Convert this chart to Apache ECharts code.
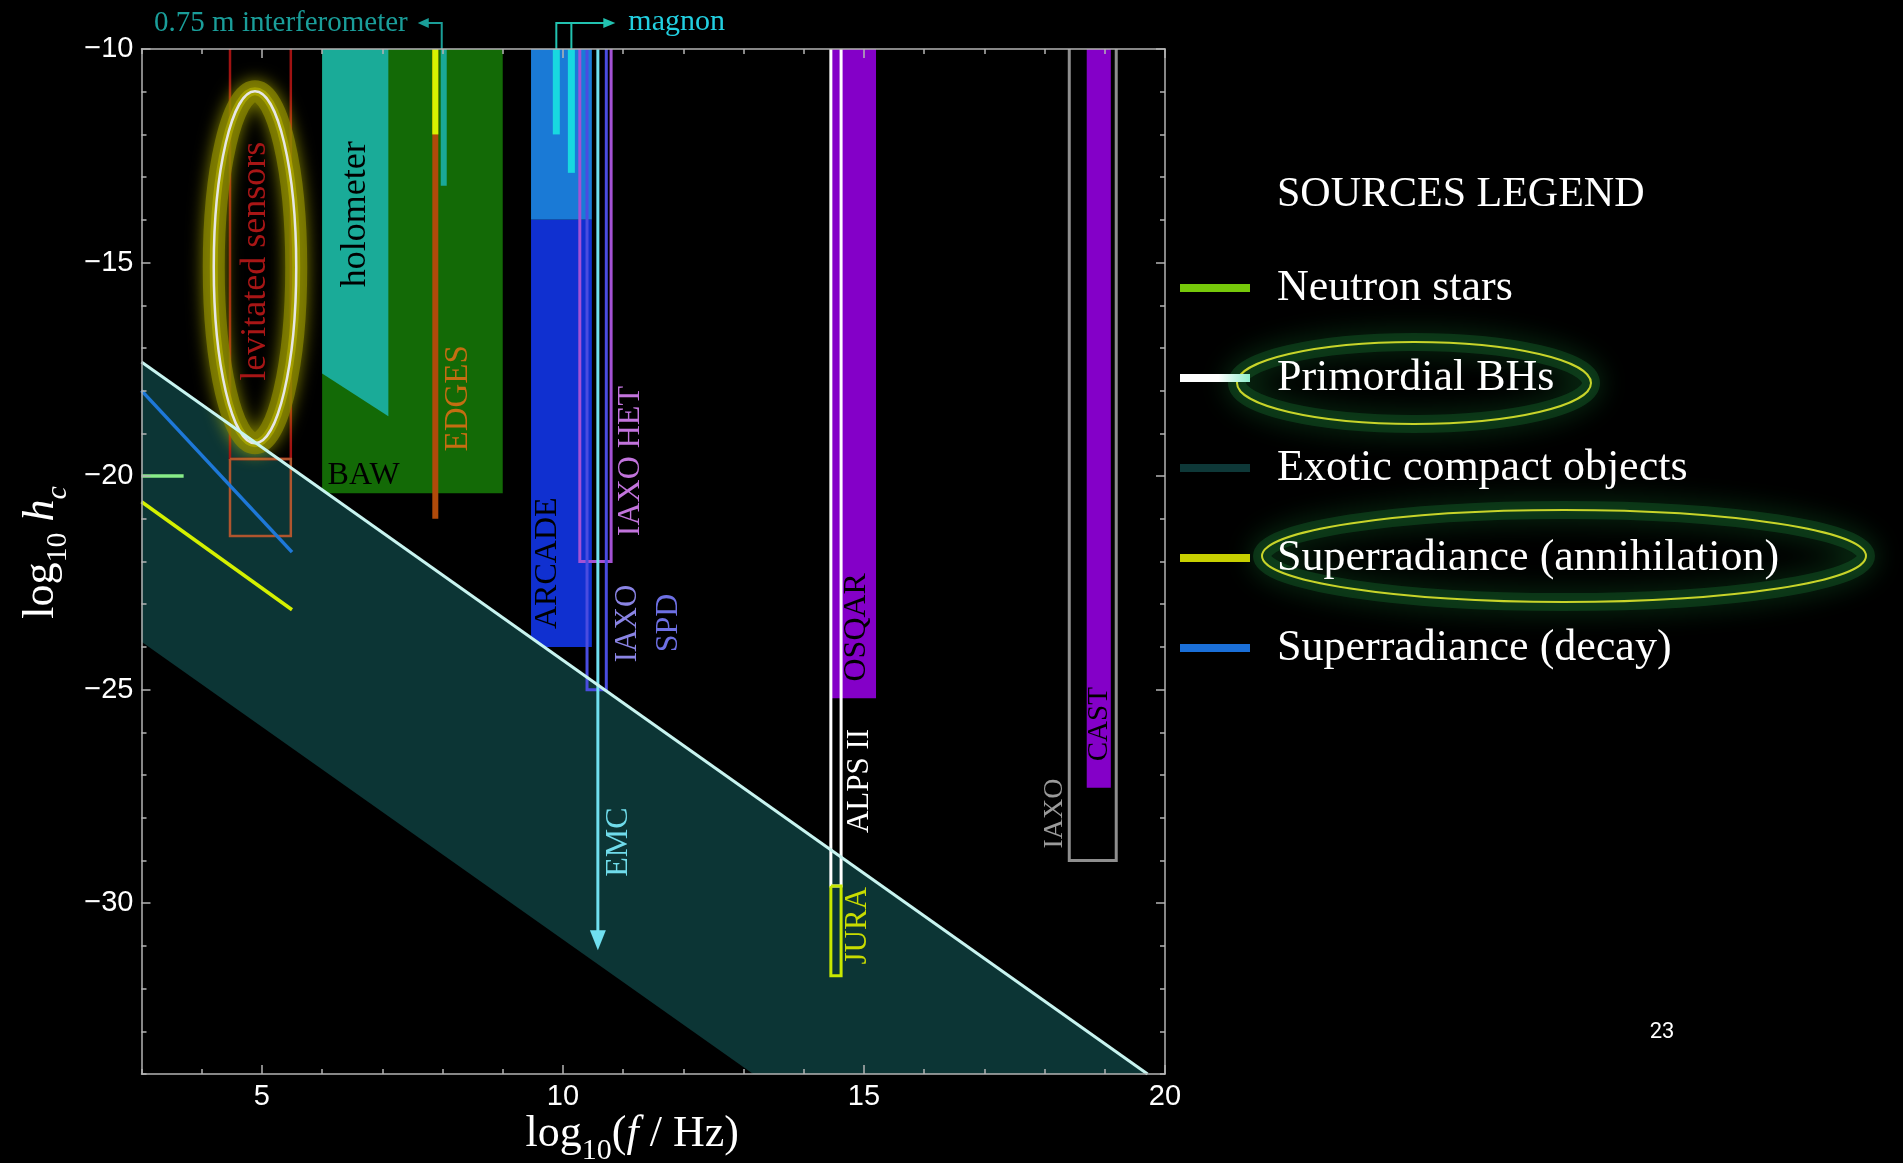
<!DOCTYPE html>
<html>
<head>
<meta charset="utf-8">
<script src="https://cdn.jsdelivr.net/npm/echarts@6/dist/echarts.min.js"></script>
<style>
html,body{margin:0;padding:0;background:#000;}
#chart{width:1903px;height:1163px;}
</style>
</head>
<body>
<div id="chart"></div>
<script>
// ---------------- axis ticks ----------------
const xMajorTicks = [5, 10, 15, 20];
const yMajorTicks = [-30, -25, -20, -15, -10];

// ---------------- sources (x = log10 f/Hz, y = log10 hc) ----------------
const sourceNames = ['Neutron stars', 'Primordial BHs', 'Exotic compact objects', 'Superradiance (annihilation)', 'Superradiance (decay)'];
const neutronStarsX = [3.0, 3.7];
const neutronStarsY = [-20.0, -20.0];
const primordialBHsX = [3.0, 19.71];
const primordialBHsY = [-17.33, -34.0];
const exoticLowerX = [3.0, 13.16];
const exoticLowerY = [-23.88, -34.0];
const annihilationX = [3.0, 5.5];
const annihilationY = [-20.6, -23.13];
const decayX = [3.0, 5.5];
const decayY = [-18.0, -21.78];

// ---------------- filled experiment regions ----------------
const filledNames = ['BAW', 'ARCADE upper', 'ARCADE', 'OSQAR', 'CAST'];
const filledX0 = [6.0, 9.47, 9.47, 14.45, 18.7];
const filledX1 = [9.0, 10.48, 10.48, 15.2, 19.1];
const filledYTop = [-10, -10, -14.0, -10, -10];
const filledYBottom = [-20.4, -14.0, -24.0, -25.2, -27.3];

const holometerX = [6.0, 7.1, 7.1, 6.0];
const holometerY = [-10, -10, -18.6, -17.6];

// ---------------- outlined experiment regions ----------------
const boxNames = ['levitated sensors', 'levitated sensors low', 'IAXO HET', 'IAXO SPD', 'ALPS II', 'JURA', 'IAXO'];
const boxX0 = [4.47, 4.47, 10.28, 10.4, 14.45, 14.45, 18.41];
const boxX1 = [5.48, 5.48, 10.8, 10.72, 14.62, 14.62, 19.19];
const boxYTop = [-10, -19.6, -10, -10, -10, -29.6, -10];
const boxYBottom = [-19.6, -21.4, -22.0, -25.0, -29.6, -31.7, -29.0];

// ---------------- vertical-line experiments ----------------
const lineNames = ['EDGES', 'EDGES upper', '0.75 m interferometer', 'magnon 1', 'magnon 2', 'EMC'];
const lineX = [7.88, 7.88, 8.02, 9.89, 10.14, 10.58];
const lineYTop = [-10, -10, -10, -10, -10, -10];
const lineYBottom = [-21.0, -12.0, -13.2, -12.0, -12.9, -31.1];

// levitated sensors highlight ellipse: centre and semi-axes (data units)
const ellipseCenter = [4.885, -15.11];
const ellipseRadii = [0.685, 4.12];

// ---------------- text labels ----------------
const labelTexts = ['levitated sensors', 'holometer', 'BAW', 'EDGES', 'ARCADE', 'IAXO HET', 'IAXO', 'SPD', 'EMC', 'OSQAR', 'ALPS II', 'JURA', 'CAST', 'IAXO'];
const labelX = [4.89, 6.556, 6.69, 8.26, 9.74, 11.13, 11.07, 11.75, 10.92, 14.885, 14.94, 14.905, 18.91, 18.17];
const labelY = [-14.97, -13.87, -19.98, -18.18, -22.04, -19.65, -23.45, -23.44, -28.57, -23.54, -27.14, -30.53, -25.81, -27.9];

// ================= styles =================
const SERIF = '"Liberation Serif", "Times New Roman", serif';
const SANS = '"Liberation Sans", Arial, sans-serif';
const filledColors = { 'BAW': '#136a06', 'ARCADE upper': '#1a7ad6', 'ARCADE': '#1030d0', 'OSQAR': '#8400c8', 'CAST': '#8400c8' };
const boxColors = { 'levitated sensors': '#a01212', 'levitated sensors low': '#b0552e', 'IAXO HET': '#a452d4', 'IAXO SPD': '#4a4ce0', 'ALPS II': '#ffffff', 'JURA': '#c8e800', 'IAXO': '#8e8e8e' };
const boxWidths = { 'levitated sensors': 2.5, 'levitated sensors low': 2.5, 'IAXO HET': 3, 'IAXO SPD': 3, 'ALPS II': 3, 'JURA': 3, 'IAXO': 3 };
const lineColors = { 'EDGES': '#b04a0a', 'EDGES upper': '#d8f200', '0.75 m interferometer': '#1aa898', 'magnon 1': '#18d8e0', 'magnon 2': '#18d8e0', 'EMC': '#70e0f0' };
const lineWidths = { 'EDGES': 6, 'EDGES upper': 6, '0.75 m interferometer': 6, 'magnon 1': 7, 'magnon 2': 7, 'EMC': 3 };
const labelColors = ['#a81616', '#000000', '#000000', '#c46e12', '#000000', '#c274dc', '#8a84e4', '#6e70e4', '#70dceb', '#000000', '#ffffff', '#c8dc00', '#000000', '#9a9a9a'];
const labelSizes = [36, 36, 32, 33, 32, 32, 31, 32, 32, 32, 31, 31, 29, 28];
const labelRotated = [true, true, false, true, true, true, true, true, true, true, true, true, true, true];

const axisLine = { color: '#b4b4b4', width: 1.5 };

function pair(xs, ys) { return xs.map((x, i) => [x, ys[i]]); }

// ================= render functions =================
function renderFilled(params, api) {
  const a = api.coord([api.value(0), api.value(2)]);
  const b = api.coord([api.value(1), api.value(3)]);
  const name = filledNames[params.dataIndex];
  return { type: 'rect', shape: { x: a[0], y: a[1], width: b[0] - a[0], height: b[1] - a[1] }, style: { fill: filledColors[name] } };
}
function renderPoly(color) {
  return function (params, api) {
    const pts = [];
    for (let k = 0; k < 4; k++) pts.push(api.coord([api.value(2 * k), api.value(2 * k + 1)]));
    return { type: 'polygon', shape: { points: pts }, style: { fill: color } };
  };
}
function renderBox(params, api) {
  const name = boxNames[params.dataIndex];
  const yTop = api.value(2);
  const a = api.coord([api.value(0), yTop]);
  const b = api.coord([api.value(1), api.value(3)]);
  let pts;
  if (yTop >= -10) pts = [[a[0], a[1]], [a[0], b[1]], [b[0], b[1]], [b[0], a[1]]];
  else pts = [[a[0], a[1]], [a[0], b[1]], [b[0], b[1]], [b[0], a[1]], [a[0], a[1]]];
  return { type: 'polyline', shape: { points: pts }, style: { stroke: boxColors[name], lineWidth: boxWidths[name], fill: 'none' } };
}
function renderVLine(params, api) {
  const name = lineNames[params.dataIndex];
  const top = api.coord([api.value(0), api.value(1)]);
  const bot = api.coord([api.value(0), api.value(2)]);
  const color = lineColors[name], w = lineWidths[name];
  const ch = [];
  if (name === 'EMC') {
    ch.push({ type: 'line', shape: { x1: top[0], y1: top[1], x2: bot[0], y2: bot[1] - 16 }, style: { stroke: color, lineWidth: w } });
    ch.push({ type: 'polygon', shape: { points: [[bot[0] - 8, bot[1] - 20], [bot[0] + 8, bot[1] - 20], [bot[0], bot[1]]] }, style: { fill: color } });
  } else {
    ch.push({ type: 'line', shape: { x1: top[0], y1: top[1], x2: bot[0], y2: bot[1] }, style: { stroke: color, lineWidth: w } });
  }
  if (name === '0.75 m interferometer') {
    const c = '#1a9e98', yb = top[1] - 26, x = top[0] - 2;
    ch.push({ type: 'polyline', shape: { points: [[x, top[1]], [x, yb], [x - 15, yb]] }, style: { stroke: c, lineWidth: 2, fill: 'none' } });
    ch.push({ type: 'polygon', shape: { points: [[x - 13, yb - 5], [x - 13, yb + 5], [x - 24, yb]] }, style: { fill: c } });
    ch.push({ type: 'text', x: x - 34, y: yb, style: { text: '0.75 m interferometer', fill: '#1a9e9a', fontSize: 29, fontFamily: SERIF, align: 'right', verticalAlign: 'middle' } });
  }
  if (name === 'magnon 1') {
    const c = '#22c2b0', yb = top[1] - 26, x = top[0];
    ch.push({ type: 'polyline', shape: { points: [[x, top[1]], [x, yb], [x + 49, yb]] }, style: { stroke: c, lineWidth: 2, fill: 'none' } });
    ch.push({ type: 'polygon', shape: { points: [[x + 47, yb - 5], [x + 47, yb + 5], [x + 59, yb]] }, style: { fill: c } });
    ch.push({ type: 'text', x: x + 72, y: yb - 1, style: { text: 'magnon', fill: '#22cfe0', fontSize: 30, fontFamily: SERIF, align: 'left', verticalAlign: 'middle' } });
  }
  if (name === 'magnon 2') {
    ch.push({ type: 'line', shape: { x1: top[0], y1: top[1], x2: top[0], y2: top[1] - 26 }, style: { stroke: '#22c2b0', lineWidth: 2 } });
  }
  return { type: 'group', children: ch };
}
function renderEllipse(params, api) {
  const c = api.coord([api.value(0), api.value(1)]);
  const s = api.size([api.value(2), api.value(3)]);
  return {
    type: 'group', children: [
      { type: 'ellipse', shape: { cx: c[0], cy: c[1], rx: s[0], ry: s[1] }, style: { fill: 'none', stroke: 'rgba(135,132,0,0.75)', lineWidth: 22, shadowBlur: 16, shadowColor: 'rgba(200,200,0,0.85)' } },
      { type: 'ellipse', shape: { cx: c[0], cy: c[1], rx: s[0], ry: s[1] }, style: { fill: 'none', stroke: 'rgba(190,185,0,0.55)', lineWidth: 8 } },
      { type: 'ellipse', shape: { cx: c[0], cy: c[1], rx: s[0], ry: s[1] }, style: { fill: 'none', stroke: '#e6e6e6', lineWidth: 2.5 } }
    ]
  };
}
function renderLabel(params, api) {
  const i = params.dataIndex;
  const p = api.coord([api.value(0), api.value(1)]);
  return {
    type: 'text', x: p[0], y: p[1], rotation: labelRotated[i] ? Math.PI / 2 : 0,
    style: { text: labelTexts[i], fill: labelColors[i], fontSize: labelSizes[i], fontFamily: SERIF, align: 'center', verticalAlign: 'middle' }
  };
}

// ================= option =================
const chart = echarts.init(document.getElementById('chart'), null, { renderer: 'canvas' });
const grid = { left: 141.5, right: 1903 - 1165, top: 49, bottom: 1163 - 1074, containLabel: false, outerBoundsMode: 'none' };

function xAx(pos, major, withLabels) {
  const ax = {
    type: 'value', min: 3, max: 20, position: pos, z: 10,
    axisLine: { show: !major, onZero: false, lineStyle: axisLine },
    axisTick: { show: true, inside: true, length: major ? 9 : 5, lineStyle: axisLine },
    axisLabel: { show: false },
    splitLine: { show: false }
  };
  if (major) ax.axisTick.customValues = xMajorTicks; else ax.interval = 1;
  if (withLabels) {
    ax.axisLabel = { show: true, color: '#fff', fontSize: 29, fontFamily: SANS, margin: 8, formatter: v => xMajorTicks.includes(v) ? String(v) : '' };
    ax.name = '{m|log}{s|10}{m|(}{i|f}{m| / Hz)}';
    ax.nameLocation = 'middle';
    ax.nameGap = 28;
    ax.nameMoveOverlap = false;
    ax.nameTextStyle = {
      color: '#fff', fontFamily: SERIF, fontSize: 44, lineHeight: 64, padding: [0, 42, 0, 0],
      rich: {
        m: { color: '#fff', fontFamily: SERIF, fontSize: 44, lineHeight: 64 },
        i: { color: '#fff', fontFamily: SERIF, fontSize: 44, lineHeight: 64, fontStyle: 'italic' },
        s: { color: '#fff', fontFamily: SERIF, fontSize: 30, lineHeight: 30, verticalAlign: 'bottom' }
      }
    };
  }
  return ax;
}
function yAx(pos, major, withLabels) {
  const ax = {
    type: 'value', min: -34, max: -10, position: pos, z: 10,
    axisLine: { show: !major, onZero: false, lineStyle: axisLine },
    axisTick: { show: true, inside: true, length: major ? 9 : 5, lineStyle: axisLine },
    axisLabel: { show: false },
    splitLine: { show: false }
  };
  if (major) ax.axisTick.customValues = yMajorTicks; else ax.interval = 1;
  if (withLabels) {
    ax.axisLabel = { show: true, color: '#fff', fontSize: 29, fontFamily: SANS, margin: 8, formatter: v => yMajorTicks.includes(v) ? '\u2212' + Math.abs(v) : '' };
    ax.name = '{m|log}{s|10}{m| }{i|h}{si|c}';
    ax.nameLocation = 'middle';
    ax.nameRotate = 90;
    ax.nameGap = 68;
    ax.nameMoveOverlap = false;
    ax.nameTextStyle = {
      color: '#fff', fontFamily: SERIF, fontSize: 44, lineHeight: 64, padding: [0, 0, 0, 18],
      rich: {
        m: { color: '#fff', fontFamily: SERIF, fontSize: 44, lineHeight: 64 },
        i: { color: '#fff', fontFamily: SERIF, fontSize: 44, lineHeight: 64, fontStyle: 'italic' },
        s: { color: '#fff', fontFamily: SERIF, fontSize: 30, lineHeight: 30, verticalAlign: 'bottom' },
        si: { color: '#fff', fontFamily: SERIF, fontSize: 30, lineHeight: 30, verticalAlign: 'bottom', fontStyle: 'italic' }
      }
    };
  }
  return ax;
}

const bandValue = [
  primordialBHsX[0], primordialBHsY[0], primordialBHsX[1], primordialBHsY[1],
  exoticLowerX[1], exoticLowerY[1], exoticLowerX[0], exoticLowerY[0]
];
const holoValue = [];
holometerX.forEach((x, i) => { holoValue.push(x, holometerY[i]); });

const glowStyle = { fill: 'none', stroke: 'rgba(30,130,55,0.3)', lineWidth: 18, shadowBlur: 28, shadowColor: 'rgba(40,190,80,0.95)' };
const ringStyle = { fill: 'none', stroke: '#c8d42a', lineWidth: 2 };

const option = {
  backgroundColor: '#000',
  animation: false,
  grid: grid,
  title: {
    text: 'SOURCES LEGEND', left: 1277, top: 174, padding: 0,
    textStyle: { color: '#fff', fontSize: 42, fontWeight: 'normal', fontFamily: SERIF }
  },
  legend: {
    orient: 'vertical', left: 1180, top: 263, padding: 0,
    itemWidth: 70, itemHeight: 8, itemGap: 40, icon: 'rect', selectedMode: false,
    textStyle: { color: '#fff', fontSize: 44, lineHeight: 50, fontFamily: SERIF, padding: [0, 0, 0, 22] },
    data: [
      { name: sourceNames[0], icon: 'rect', itemStyle: { color: '#76c80a' } },
      { name: sourceNames[1], icon: 'rect', itemStyle: { color: { type: 'linear', x: 0, y: 0, x2: 1, y2: 0, colorStops: [{ offset: 0, color: '#ffffff' }, { offset: 0.55, color: '#ffffff' }, { offset: 1, color: '#90f0cc' }] } } },
      { name: sourceNames[2], icon: 'rect', itemStyle: { color: '#0e3838' } },
      { name: sourceNames[3], icon: 'rect', itemStyle: { color: '#c8d000' } },
      { name: sourceNames[4], icon: 'rect', itemStyle: { color: '#1a6fd8' } }
    ]
  },
  xAxis: [xAx('bottom', false, true), xAx('bottom', true, false), xAx('top', false, false), xAx('top', true, false)],
  yAxis: [yAx('left', false, true), yAx('left', true, false), yAx('right', false, false), yAx('right', true, false)],
  graphic: [
    { type: 'ellipse', z: 1, silent: true, shape: { cx: 1414, cy: 383, rx: 177, ry: 41 }, style: glowStyle },
    { type: 'ellipse', z: 2, silent: true, shape: { cx: 1414, cy: 383, rx: 177, ry: 41 }, style: ringStyle },
    { type: 'ellipse', z: 1, silent: true, shape: { cx: 1564, cy: 556, rx: 302, ry: 46 }, style: glowStyle },
    { type: 'ellipse', z: 2, silent: true, shape: { cx: 1564, cy: 556, rx: 302, ry: 46 }, style: ringStyle },
    { type: 'text', z: 5, x: 1662, y: 1032, style: { text: '23', fill: '#fff', fontSize: 22, fontFamily: 'Roboto, sans-serif', align: 'center', verticalAlign: 'middle' } }
  ],
  series: [
    { type: 'custom', name: 'filled experiments', silent: true, clip: false, renderItem: renderFilled, encode: { x: [0, 1], y: [2, 3] },
      data: filledNames.map((n, i) => ({ name: n, value: [filledX0[i], filledX1[i], filledYTop[i], filledYBottom[i]] })) },
    { type: 'custom', name: 'holometer', silent: true, clip: false, renderItem: renderPoly('#1aab98'), encode: { x: [0, 2, 4, 6], y: [1, 3, 5, 7] },
      data: [holoValue] },
    { type: 'custom', name: sourceNames[2], silent: true, clip: false, itemStyle: { color: '#0e3838' }, renderItem: renderPoly('#0c3535'), encode: { x: [0, 2, 4, 6], y: [1, 3, 5, 7] },
      data: [bandValue] },
    { type: 'line', name: sourceNames[1], silent: true, showSymbol: false, symbol: 'none', color: '#ffffff', lineStyle: { color: '#c8f4f0', width: 3 }, data: pair(primordialBHsX, primordialBHsY) },
    { type: 'line', name: sourceNames[0], silent: true, showSymbol: false, symbol: 'none', color: '#76c80a', lineStyle: { color: '#88ec88', width: 3.5 }, data: pair(neutronStarsX, neutronStarsY) },
    { type: 'line', name: sourceNames[3], silent: true, showSymbol: false, symbol: 'none', color: '#c8d000', lineStyle: { color: '#d4f000', width: 3.5 }, data: pair(annihilationX, annihilationY) },
    { type: 'line', name: sourceNames[4], silent: true, showSymbol: false, symbol: 'none', color: '#1a6fd8', lineStyle: { color: '#1e78d8', width: 3.5 }, data: pair(decayX, decayY) },
    { type: 'custom', name: 'outlined experiments', silent: true, clip: false, renderItem: renderBox, encode: { x: [0, 1], y: [2, 3] },
      data: boxNames.map((n, i) => ({ name: n, value: [boxX0[i], boxX1[i], boxYTop[i], boxYBottom[i]] })) },
    { type: 'custom', name: 'line experiments', silent: true, clip: false, renderItem: renderVLine, encode: { x: 0, y: [1, 2] },
      data: lineNames.map((n, i) => ({ name: n, value: [lineX[i], lineYTop[i], lineYBottom[i]] })) },
    { type: 'custom', name: 'highlight', silent: true, clip: false, renderItem: renderEllipse, encode: { x: 0, y: 1 },
      data: [[ellipseCenter[0], ellipseCenter[1], ellipseRadii[0], ellipseRadii[1]]] },
    { type: 'custom', name: 'labels', silent: true, clip: false, renderItem: renderLabel, encode: { x: 0, y: 1 },
      data: labelTexts.map((t, i) => ({ name: t, value: [labelX[i], labelY[i]] })) }
  ]
};
chart.setOption(option);
</script>
</body>
</html>
